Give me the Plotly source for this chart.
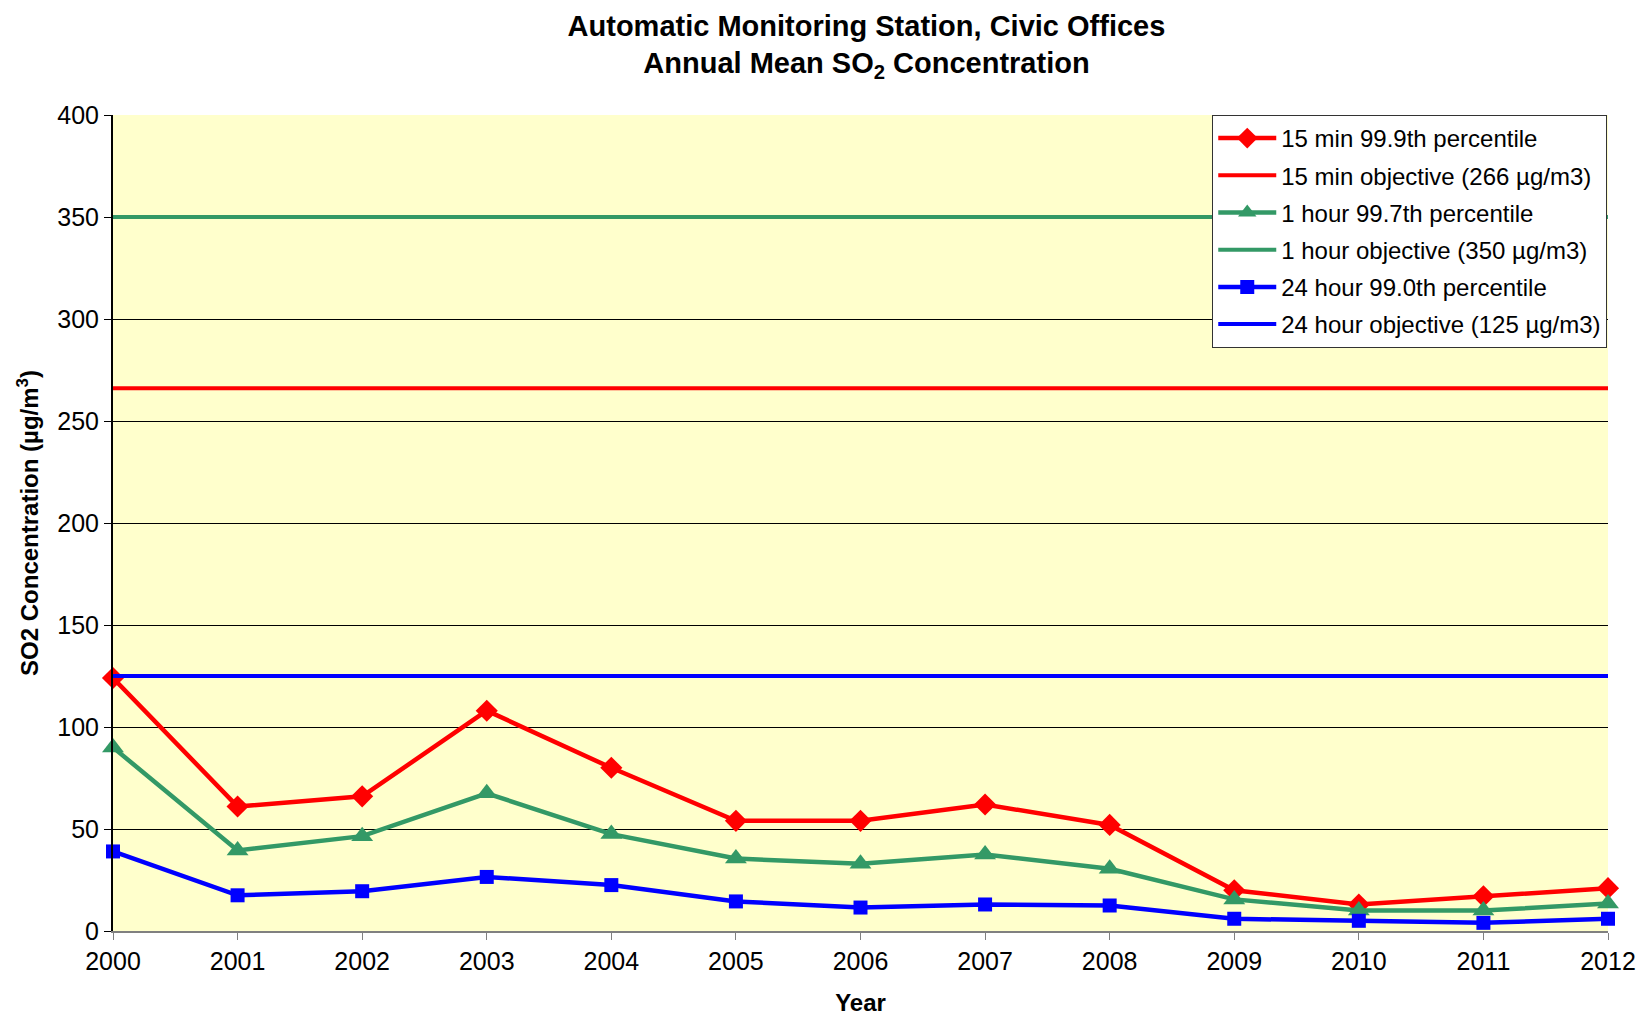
import plotly.graph_objects as go

years = list(range(2000, 2013))
p15min = [124, 61, 66, 108, 80, 54, 54, 62, 52, 20, 13, 17, 21]
p1hour = [90, 39.5, 46.5, 67.5, 47.5, 35.5, 33, 37.5, 30.5, 15.5, 10, 10, 13.5]
p24hour = [39, 17.5, 19.5, 26.5, 22.5, 14.5, 11.5, 13, 12.5, 6, 5, 4, 6]
obj15min = 266
obj1hour = 350
obj24hour = 125

RED = "#FF0000"
GREEN = "#339966"
BLUE = "#0000FF"
FONT = "Liberation Sans, Arial, sans-serif"

fig = go.Figure()

def add_series(name, y, color, symbol, size, group):
    fig.add_trace(go.Scatter(
        x=years, y=y, name=name, mode="lines+markers",
        line=dict(color=color, width=4.5),
        marker=dict(symbol=symbol, size=size, color=color),
        cliponaxis=False, legendgroup=group,
    ))

def add_objective(name, val, color, group):
    fig.add_trace(go.Scatter(
        x=[years[0], years[-1]], y=[val, val], name=name, mode="lines",
        line=dict(color=color, width=4), legendgroup=group,
    ))

add_series("15 min 99.9th percentile", p15min, RED, "diamond", 17, "a")
add_objective("15 min objective (266 µg/m3)", obj15min, RED, "b")
add_series("1 hour 99.7th percentile", p1hour, GREEN, "triangle-up", 19, "c")
add_objective("1 hour objective (350 µg/m3)", obj1hour, GREEN, "d")
add_series("24 hour 99.0th percentile", p24hour, BLUE, "square", 14, "e")
add_objective("24 hour objective (125 µg/m3)", obj24hour, BLUE, "f")

fig.update_layout(
    width=1638, height=1016,
    margin=dict(l=113, r=30, t=115, b=85),
    paper_bgcolor="white", plot_bgcolor="#FFFFCC",
    title=dict(
        text="Automatic Monitoring Station, Civic Offices<br>Annual Mean SO<sub>2</sub> Concentration",
        xref="paper", x=0.504, xanchor="center", y=0.965, yanchor="top",
        font=dict(family=FONT, size=29, color="black", weight="bold"),
    ),
    font=dict(family=FONT, color="black"),
    legend=dict(
        x=0.9995, xanchor="right", y=1.0, yanchor="top",
        bgcolor="white", bordercolor="#333333", borderwidth=1,
        font=dict(family=FONT, size=24, color="black"),
        tracegroupgap=3, itemwidth=58,
    ),
    xaxis=dict(
        range=[2000, 2012], tickmode="array", tickvals=years,
        ticktext=[str(y) for y in years],
        showgrid=False, zeroline=False, automargin=False,
        showline=True, linecolor="#808080", linewidth=2,
        ticks="outside", ticklen=7, tickcolor="#808080",
        tickfont=dict(family=FONT, size=25),
        title=dict(text="Year", font=dict(family=FONT, size=24, weight="bold"), standoff=26),
    ),
    yaxis=dict(
        range=[0, 400], tickmode="array", tickvals=list(range(0, 401, 50)),
        showgrid=True, gridcolor="black", gridwidth=1, zeroline=False,
        automargin=False,
        showline=True, linecolor="black", linewidth=2,
        ticks="outside", ticklen=7, tickcolor="black",
        tickfont=dict(family=FONT, size=25),
        title=dict(text="SO2 Concentration (µg/m<sup>3</sup>)",
                   font=dict(family=FONT, size=24, weight="bold"), standoff=12),
    ),
)

fig.write_html("out.html", config={"displayModeBar": False},
               post_script="document.body.style.margin='0';")
